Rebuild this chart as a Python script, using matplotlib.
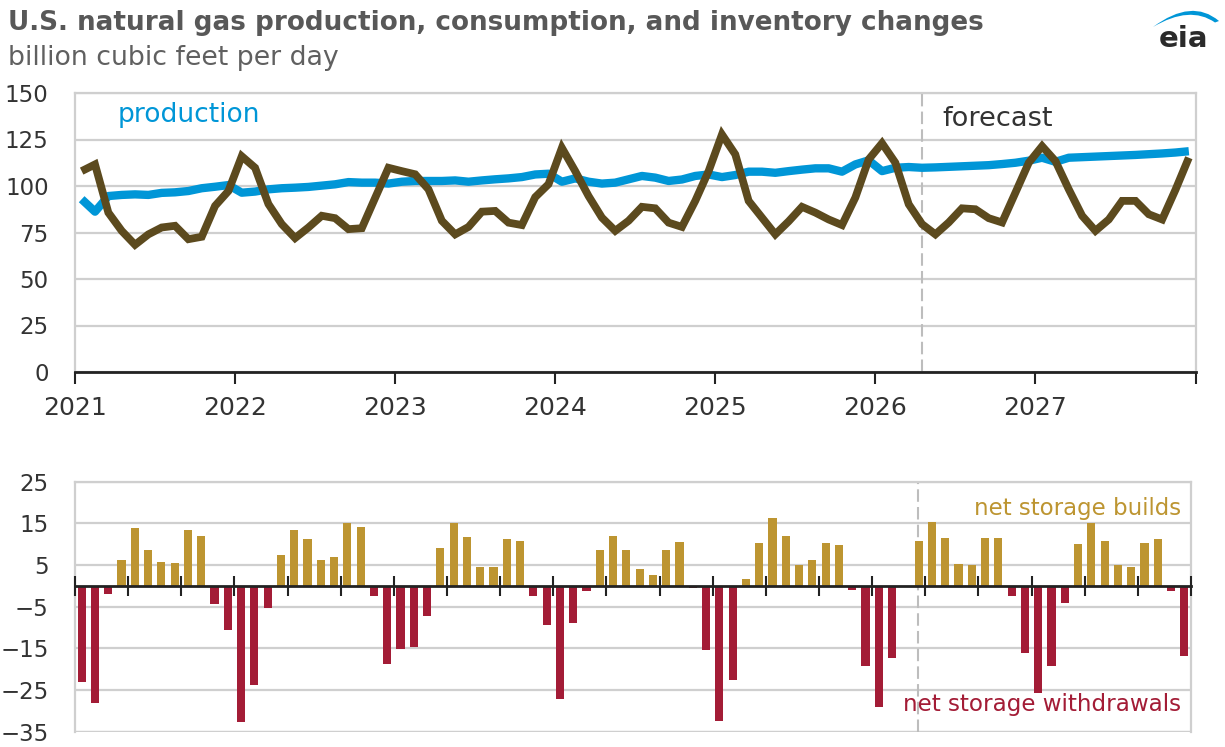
import matplotlib
matplotlib.use("Agg")
import matplotlib.pyplot as plt
import numpy as np
from matplotlib.path import Path
from matplotlib.patches import PathPatch

plt.rcParams['font.family'] = ['DejaVu Sans']

# ---------------- data (monthly, Jan 2021 - Dec 2027) ----------------
year_labels = ['2021', '2022', '2023', '2024', '2025', '2026', '2027']

production = [
    92.9, 86.2, 94.6, 95.2, 95.5, 95.2, 96.3, 96.6, 97.3, 98.8, 99.6, 100.5,
    96.4, 97.0, 98.2, 98.8, 99.1, 99.5, 100.2, 100.9, 102.1, 101.8, 101.8, 101.3,
    102.3, 102.7, 102.7, 102.7, 103.0, 102.3, 103.0, 103.6, 104.1, 104.8, 106.2, 106.6,
    102.3, 104.1, 102.3, 101.3, 101.8, 103.6, 105.4, 104.5, 102.7, 103.5, 105.4, 106.2,
    104.8, 105.9, 107.7, 107.7, 107.1, 108.0, 108.8, 109.5, 109.5, 107.7, 111.6, 113.8,
    108.0, 109.8, 110.2, 109.8, 110.0, 110.3, 110.6, 110.9, 111.2, 111.8, 112.5, 113.6,
    115.2, 113.0, 115.2, 115.5, 115.8, 116.1, 116.4, 116.7, 117.1, 117.5, 118.0, 118.7,
]

consumption = [
    108.0, 111.6, 85.7, 75.9, 68.4, 74.0, 77.7, 78.6, 71.4, 72.7, 89.3, 97.3,
    116.0, 109.8, 90.3, 79.5, 72.0, 77.7, 84.0, 82.7, 76.8, 77.3, 93.6, 109.8,
    108.0, 106.3, 98.2, 81.3, 74.0, 78.0, 86.2, 86.6, 80.3, 79.0, 94.0, 101.0,
    120.5, 108.0, 94.6, 83.0, 75.9, 81.3, 88.8, 88.0, 80.3, 78.0, 92.0, 108.0,
    127.7, 117.0, 92.0, 83.0, 74.0, 81.0, 88.8, 85.7, 82.0, 79.0, 93.8, 114.3,
    123.0, 112.5, 90.2, 79.5, 74.0, 80.4, 88.0, 87.5, 82.7, 80.4, 96.4, 112.5,
    121.4, 113.4, 98.2, 84.0, 75.9, 82.0, 92.0, 92.0, 84.8, 82.0, 98.0, 115.2,
]

net_storage = [
    -23.0, -28.2, -2.0, 6.2, 13.8, 8.6, 5.8, 5.4, 13.4, 12.0, -4.4, -10.6,
    -32.6, -23.8, -5.3, 7.4, 13.4, 11.2, 6.2, 7.0, 15.0, 14.1, -2.4, -18.8,
    -15.2, -14.7, -7.2, 9.2, 15.0, 11.8, 4.6, 4.6, 11.2, 10.7, -2.4, -9.3,
    -27.2, -8.9, -1.3, 8.7, 11.9, 8.6, 4.1, 2.7, 8.5, 10.6, -0.6, -15.3,
    -32.5, -22.6, 1.7, 10.3, 16.2, 12.0, 5.0, 6.2, 10.3, 9.8, -1.0, -19.2,
    -29.1, -17.4, 0.0, 10.8, 15.3, 11.6, 5.2, 5.0, 11.6, 11.4, -2.4, -16.1,
    -25.7, -19.2, -4.0, 10.0, 15.2, 10.8, 5.0, 4.6, 10.4, 11.2, -1.3, -16.8,
]

forecast_start = 63.47          # months after Jan 2021 (April 2026)
top_yticks = [0, 25, 50, 75, 100, 125, 150]
bottom_yticks = [25, 15, 5, -5, -15, -25, -35]

# ---------------- styling ----------------
BLUE = '#0096D7'
BROWN = '#5C4A1E'
GOLD = '#BD9531'
RED = '#A31C36'
GRID = '#CFCFCF'
TXT = '#333333'

W, H = 1225, 747
fig = plt.figure(figsize=(W / 100, H / 100), dpi=100)


def fx(px):
    return px / W


def fy(py):
    return 1 - py / H


n = len(production)
months = np.arange(n) + 0.5

# ---------------- top panel ----------------
ax1 = fig.add_axes([fx(75), fy(372), (1195.5 - 75) / W, (372 - 93) / H])
ax1.plot(months, production, color=BLUE, lw=6.0, solid_joinstyle='round',
         solid_capstyle='butt', zorder=3)
ax1.plot(months, consumption, color=BROWN, lw=5.6, solid_joinstyle='miter',
         solid_capstyle='butt', zorder=4)
ax1.set_xlim(0, n)
ax1.set_ylim(0, 150)
ax1.set_yticks(top_yticks)
ax1.set_xticks(np.arange(0, n + 1, 12))
ax1.set_xticklabels(year_labels + [''])
ax1.yaxis.grid(True, color=GRID, lw=1.6)
ax1.set_axisbelow(True)
ax1.xaxis.set_zorder(6)
ax1.axvline(forecast_start, color='#BDBDBD', lw=1.5, ls=(0, (6, 2.5)), zorder=2)
for s in ['left', 'right', 'top']:
    ax1.spines[s].set_color(GRID)
    ax1.spines[s].set_linewidth(1.6)
ax1.spines['bottom'].set_color('#222222')
ax1.spines['bottom'].set_linewidth(2)
ax1.spines['bottom'].set_zorder(5)
ax1.tick_params(axis='y', length=0, pad=19, labelsize=16.5, labelcolor=TXT)
ax1.tick_params(axis='x', direction='out', length=8.5, width=1.5, color='#222222',
                pad=9, labelsize=18, labelcolor=TXT)

# ---------------- bottom panel ----------------
ax2 = fig.add_axes([fx(75), fy(731.7), (1191 - 75) / W, (731.7 - 481.7) / H])
colors = [GOLD if v >= 0 else RED for v in net_storage]
ax2.bar(months, net_storage, width=0.62, color=colors, zorder=3)
ax2.set_xlim(0, n)
ax2.set_ylim(-35, 25)
ax2.set_yticks(bottom_yticks)
ax2.yaxis.grid(True, color=GRID, lw=1.6)
ax2.set_axisbelow(True)
ax2.xaxis.set_zorder(6)
ax2.axvline(forecast_start, color='#BDBDBD', lw=1.5, ls=(0, (6, 2.5)), zorder=2)
for s in ['left', 'right', 'top']:
    ax2.spines[s].set_color(GRID)
    ax2.spines[s].set_linewidth(1.6)
ax2.spines['bottom'].set_position(('data', 0))
ax2.spines['bottom'].set_color('#222222')
ax2.spines['bottom'].set_linewidth(2)
ax2.spines['bottom'].set_zorder(5)
ax2.axhline(-35, color=GRID, lw=1.6, zorder=1)
ax2.set_xticks(np.arange(0, n + 1, 4))
ax2.set_xticklabels([])
ax2.tick_params(axis='x', direction='inout', length=14, width=1.5, color='#222222')
ax2.tick_params(axis='y', length=0, pad=19, labelsize=16.5, labelcolor=TXT)

# ---------------- texts ----------------
fig.text(fx(8), fy(29.5), 'U.S. natural gas production, consumption, and inventory changes',
         fontsize=18.9, fontweight='bold', color='#585858', va='baseline', ha='left')
fig.text(fx(8), fy(65), 'billion cubic feet per day', fontsize=19.3, color='#606060',
         va='baseline', ha='left')
fig.text(fx(118), fy(122), 'production', fontsize=19.1, color=BLUE, va='baseline', ha='left')
fig.text(fx(942.7), fy(126), 'forecast', fontsize=19.6, color='#333333', va='baseline', ha='left')
fig.text(fx(1181), fy(515), 'net storage builds', fontsize=16.5, color=GOLD,
         va='baseline', ha='right')
fig.text(fx(1181), fy(711), 'net storage withdrawals', fontsize=16.6, color=RED,
         va='baseline', ha='right')

# ---------------- eia logo ----------------
fig.text(fx(1184), fy(47), 'eia', fontsize=21, fontweight='bold', color='#2B2B2B',
         va='baseline', ha='center')
pts = [(1153, 27), (1192, -2), (1219, 21), (1215, 22.5), (1190, 5), (1153, 27), (1153, 27)]
codes = [Path.MOVETO, Path.CURVE3, Path.CURVE3, Path.LINETO, Path.CURVE3, Path.CURVE3,
         Path.CLOSEPOLY]
logo = Path([(fx(x), fy(y)) for x, y in pts], codes)
fig.patches.append(PathPatch(logo, transform=fig.transFigure, facecolor=BLUE,
                             edgecolor='none'))

fig.savefig('out.png', dpi=100)
